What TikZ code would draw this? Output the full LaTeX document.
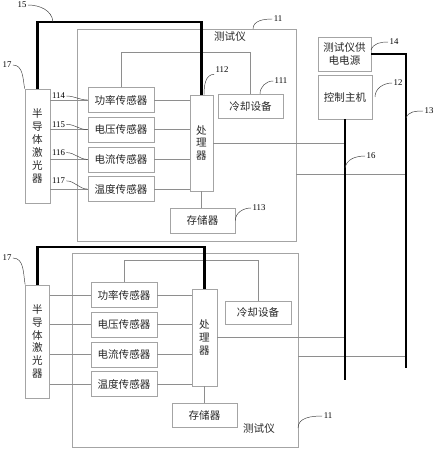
\documentclass[tikz,border=0pt]{standalone}
\usepackage{fontspec}
\setmainfont{Liberation Serif}
\newfontfamily\cjk{Noto Sans CJK SC}
\definecolor{cwire}{HTML}{8E8E8E}
\definecolor{cbox}{HTML}{A4A4A4}
\newcommand{\px}{0.03}

\begin{document}
\begin{tikzpicture}[
    x=\px cm, y=-\px cm,
    frame/.style 2 args={draw=cbox, line width=0.6pt, minimum width={#1*\px cm}, minimum height={#2*\px cm}, inner sep=0pt},
    blk/.style 2 args={frame={#1}{#2}, align=center, font=\cjk\fontsize{9}{11}\selectfont, text=black!85},
    unitname/.style={font=\cjk\fontsize{9}{11}\selectfont, text=black!85, inner sep=0pt},
    num/.style={font=\fontsize{7.5}{9}\selectfont, inner sep=1pt},
    wire/.style={draw=cwire, line width=0.5pt},
    bus/.style={draw=black, line width=2pt},
    leader/.style={draw=black!75, line width=0.4pt},
]
\useasboundingbox (0,0) rectangle (437,450);

% Test instrument frames
\node[frame={219}{212}] (boxA) at (186.5,135) {};
\node[frame={226}{194}] (boxB) at (185,350) {};
\node[unitname] (nameA) at (230,37) {测试仪};
\node[unitname] (nameB) at (259,429) {测试仪};

% --- Upper unit ---
\node[blk={25}{114}] (laserA) at (37.5,146) {半\\导\\体\\激\\光\\器};
\node[blk={23}{96}] (procA) at (201.5,143) {处\\理\\器};
\node[blk={65}{24}] (coolA) at (250.5,106) {冷却设备};
\node[blk={65}{25}] (storA) at (202.5,220.5) {存储器};
\foreach \t [count=\i from 0] in {功率传感器,电压传感器,电流传感器,温度传感器} {
    \node[blk={66}{25}] (senA\i) at (121,{100+29.7*\i}) {\t};
}

% --- Lower unit ---
\node[blk={24}{113}] (laserB) at (37.5,341.5) {半\\导\\体\\激\\光\\器};
\node[blk={25}{97}] (procB) at (204.5,337.5) {处\\理\\器};
\node[blk={66}{23}] (coolB) at (258,312.5) {冷却设备};
\node[blk={65}{24}] (storB) at (204.5,415) {存储器};
\foreach \t [count=\i from 0] in {功率传感器,电压传感器,电流传感器,温度传感器} {
    \node[blk={66}{25}] (senB\i) at (124,{295+29.7*\i}) {\t};
}

% --- Power supply and host ---
\node[blk={53}{34}] (supply) at (344.5,54) {测试仪供\\电电源};
\node[blk={54}{44}] (host) at (345,97) {控制主机};

% Helper coordinates
\coordinate (busEnd) at (406,368);
\coordinate (hostEnd) at (345,380);
\coordinate (topA) at (0,22);
\coordinate (loopA) at (0,52);
\coordinate (tapA) at (0,174);
\coordinate (topB) at (0,247);
\coordinate (loopB) at (0,260);
\coordinate (tapB) at (0,356);

% Sensor wiring
\foreach \u in {A,B} {
    \foreach \i in {0,1,2,3} {
        \draw[wire] (laser\u.east |- sen\u\i.west) -- (sen\u\i.west);
        \draw[wire] (sen\u\i.east) -- (sen\u\i.east -| proc\u.west);
    }
    \draw[wire] (proc\u.south) -- (proc\u.south |- stor\u.north);
    \draw[wire] (sen\u0.north) |- (cool\u.north |- loop\u) -- (cool\u.north);
    \draw[wire] (proc\u.east) -- (proc\u.east -| hostEnd);
    \draw[wire] (box\u.east |- tap\u) -- (busEnd |- tap\u);
}

% Thick lines
\draw[bus] (laserA.north) |- (procA.north |- topA) -- (procA.north);
\draw[bus] (laserB.north) |- (procB.north |- topB) -- (procB.north);
\draw[bus] (supply.east) -| (busEnd);
\draw[bus] (host.south) -- (hostEnd);

% Reference numbers
\node[num] (n15) at (22,5) {15};
\coordinate (p15) at (53,22);
\draw[leader] (n15.east) to[out=0,in=95] (p15);

\node[num] (n17a) at (7,65) {17};
\draw[leader] (n17a.east) to[out=0,in=100] (laserA.north west);
\node[num] (n17b) at (7,258) {17};
\draw[leader] (n17b.east) to[out=0,in=100] (laserB.north west);

\foreach \num [count=\i from 0] in {114,115,116,117} {
    \node[num] (n\num) at (58.5,{96+28.3*\i}) {\num};
    \draw[leader] (n\num.east) to[out=0,in=180] (senA\i.west);
}

\node[num] (n112) at (222,70) {112};
\coordinate (p112) at (204,95);
\draw[leader] (p112) to[out=90,in=180] (n112.south west);

\node[num] (n111) at (281,81) {111};
\coordinate (p111) at (260,94);
\draw[leader] (p111) to[out=90,in=180] (n111.west);

\node[num] (n11a) at (278,19) {11};
\coordinate (p11a) at (253,29);
\draw[leader] (p11a) to[out=90,in=180] (n11a.west);

\node[num] (n11b) at (328,416) {11};
\coordinate (p11b) at (298,428);
\draw[leader] (p11b) to[out=90,in=180] (n11b.west);

\node[num] (n113) at (259,208) {113};
\draw[leader] (storA.east) to[out=90,in=180] (n113.west);

\node[num] (n14) at (394,42) {14};
\coordinate (p14) at (371,50);
\draw[leader] (p14) to[out=70,in=180] (n14.west);

\node[num] (n12) at (398,83) {12};
\coordinate (p12) at (375,97);
\draw[leader] (p12) to[out=90,in=180] (n12.west);

\node[num] (n13) at (429,111) {13};
\coordinate (p13) at (406,118);
\draw[leader] (p13) to[out=70,in=180] (n13.west);

\node[num] (n16) at (371,156) {16};
\coordinate (p16) at (345,168);
\draw[leader] (p16) to[out=80,in=180] (n16.west);

\end{tikzpicture}
\end{document}
